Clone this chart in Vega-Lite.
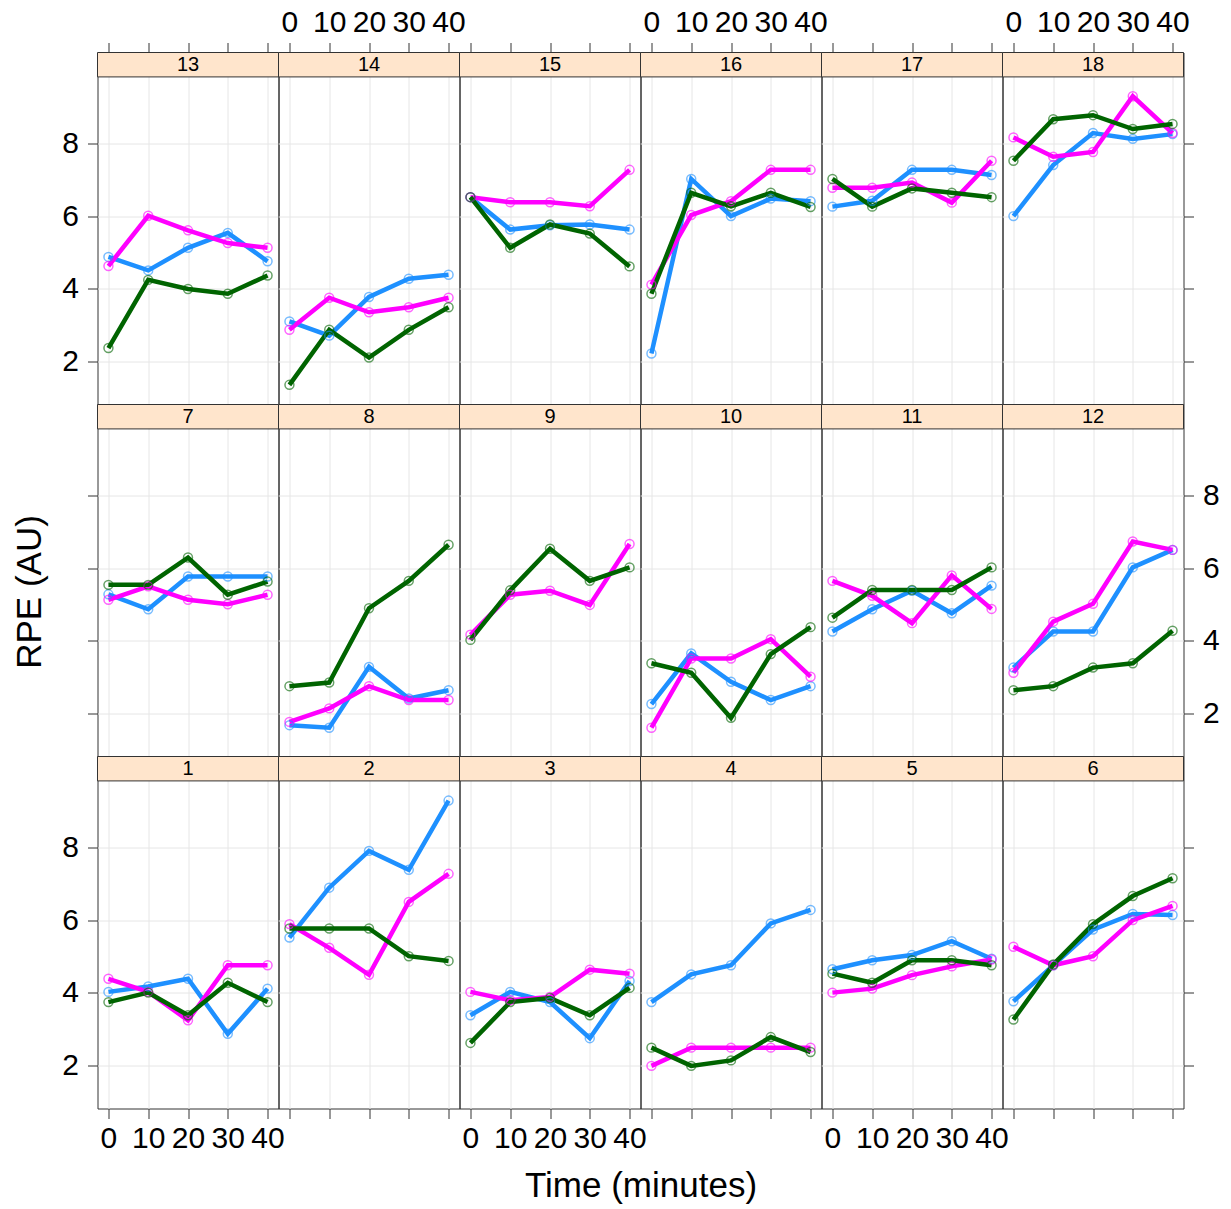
{
"$schema": "https://vega.github.io/schema/vega-lite/v6.json",
"padding": {"left": 11.5, "top": 6.5, "right": 5, "bottom": 5},
"datasets": {"rpe": [
{"panel":1,"cond":"S1","time":0,"rpe":4.03},{"panel":1,"cond":"S1","time":10,"rpe":4.18},{"panel":1,"cond":"S1","time":20,"rpe":4.39},{"panel":1,"cond":"S1","time":30,"rpe":2.88},{"panel":1,"cond":"S1","time":40,"rpe":4.12},
{"panel":1,"cond":"S2","time":0,"rpe":4.39},{"panel":1,"cond":"S2","time":10,"rpe":4.03},{"panel":1,"cond":"S2","time":20,"rpe":3.25},{"panel":1,"cond":"S2","time":30,"rpe":4.76},{"panel":1,"cond":"S2","time":40,"rpe":4.76},
{"panel":1,"cond":"S3","time":0,"rpe":3.75},{"panel":1,"cond":"S3","time":10,"rpe":4.01},{"panel":1,"cond":"S3","time":20,"rpe":3.39},{"panel":1,"cond":"S3","time":30,"rpe":4.28},{"panel":1,"cond":"S3","time":40,"rpe":3.75},
{"panel":2,"cond":"S1","time":0,"rpe":5.52},{"panel":2,"cond":"S1","time":10,"rpe":6.89},{"panel":2,"cond":"S1","time":20,"rpe":7.9},{"panel":2,"cond":"S1","time":30,"rpe":7.38},{"panel":2,"cond":"S1","time":40,"rpe":9.28},
{"panel":2,"cond":"S2","time":0,"rpe":5.89},{"panel":2,"cond":"S2","time":10,"rpe":5.24},{"panel":2,"cond":"S2","time":20,"rpe":4.5},{"panel":2,"cond":"S2","time":30,"rpe":6.5},{"panel":2,"cond":"S2","time":40,"rpe":7.27},
{"panel":2,"cond":"S3","time":0,"rpe":5.77},{"panel":2,"cond":"S3","time":10,"rpe":5.77},{"panel":2,"cond":"S3","time":20,"rpe":5.77},{"panel":2,"cond":"S3","time":30,"rpe":5.01},{"panel":2,"cond":"S3","time":40,"rpe":4.88},
{"panel":3,"cond":"S1","time":0,"rpe":3.39},{"panel":3,"cond":"S1","time":10,"rpe":4.03},{"panel":3,"cond":"S1","time":20,"rpe":3.75},{"panel":3,"cond":"S1","time":30,"rpe":2.76},{"panel":3,"cond":"S1","time":40,"rpe":4.33},
{"panel":3,"cond":"S2","time":0,"rpe":4.03},{"panel":3,"cond":"S2","time":10,"rpe":3.8},{"panel":3,"cond":"S2","time":20,"rpe":3.89},{"panel":3,"cond":"S2","time":30,"rpe":4.64},{"panel":3,"cond":"S2","time":40,"rpe":4.53},
{"panel":3,"cond":"S3","time":0,"rpe":2.63},{"panel":3,"cond":"S3","time":10,"rpe":3.75},{"panel":3,"cond":"S3","time":20,"rpe":3.86},{"panel":3,"cond":"S3","time":30,"rpe":3.39},{"panel":3,"cond":"S3","time":40,"rpe":4.14},
{"panel":4,"cond":"S1","time":0,"rpe":3.75},{"panel":4,"cond":"S1","time":10,"rpe":4.51},{"panel":4,"cond":"S1","time":20,"rpe":4.76},{"panel":4,"cond":"S1","time":30,"rpe":5.91},{"panel":4,"cond":"S1","time":40,"rpe":6.28},
{"panel":4,"cond":"S2","time":0,"rpe":2.0},{"panel":4,"cond":"S2","time":10,"rpe":2.5},{"panel":4,"cond":"S2","time":20,"rpe":2.5},{"panel":4,"cond":"S2","time":30,"rpe":2.5},{"panel":4,"cond":"S2","time":40,"rpe":2.5},
{"panel":4,"cond":"S3","time":0,"rpe":2.5},{"panel":4,"cond":"S3","time":10,"rpe":2.0},{"panel":4,"cond":"S3","time":20,"rpe":2.15},{"panel":4,"cond":"S3","time":30,"rpe":2.79},{"panel":4,"cond":"S3","time":40,"rpe":2.38},
{"panel":5,"cond":"S1","time":0,"rpe":4.65},{"panel":5,"cond":"S1","time":10,"rpe":4.9},{"panel":5,"cond":"S1","time":20,"rpe":5.04},{"panel":5,"cond":"S1","time":30,"rpe":5.42},{"panel":5,"cond":"S1","time":40,"rpe":4.94},
{"panel":5,"cond":"S2","time":0,"rpe":4.01},{"panel":5,"cond":"S2","time":10,"rpe":4.12},{"panel":5,"cond":"S2","time":20,"rpe":4.49},{"panel":5,"cond":"S2","time":30,"rpe":4.73},{"panel":5,"cond":"S2","time":40,"rpe":4.92},
{"panel":5,"cond":"S3","time":0,"rpe":4.53},{"panel":5,"cond":"S3","time":10,"rpe":4.28},{"panel":5,"cond":"S3","time":20,"rpe":4.9},{"panel":5,"cond":"S3","time":30,"rpe":4.9},{"panel":5,"cond":"S3","time":40,"rpe":4.76},
{"panel":6,"cond":"S1","time":0,"rpe":3.77},{"panel":6,"cond":"S1","time":10,"rpe":4.76},{"panel":6,"cond":"S1","time":20,"rpe":5.74},{"panel":6,"cond":"S1","time":30,"rpe":6.17},{"panel":6,"cond":"S1","time":40,"rpe":6.14},
{"panel":6,"cond":"S2","time":0,"rpe":5.27},{"panel":6,"cond":"S2","time":10,"rpe":4.76},{"panel":6,"cond":"S2","time":20,"rpe":5.01},{"panel":6,"cond":"S2","time":30,"rpe":6.0},{"panel":6,"cond":"S2","time":40,"rpe":6.39},
{"panel":6,"cond":"S3","time":0,"rpe":3.27},{"panel":6,"cond":"S3","time":10,"rpe":4.78},{"panel":6,"cond":"S3","time":20,"rpe":5.89},{"panel":6,"cond":"S3","time":30,"rpe":6.66},{"panel":6,"cond":"S3","time":40,"rpe":7.15},
{"panel":7,"cond":"S1","time":0,"rpe":5.28},{"panel":7,"cond":"S1","time":10,"rpe":4.87},{"panel":7,"cond":"S1","time":20,"rpe":5.77},{"panel":7,"cond":"S1","time":30,"rpe":5.77},{"panel":7,"cond":"S1","time":40,"rpe":5.77},
{"panel":7,"cond":"S2","time":0,"rpe":5.13},{"panel":7,"cond":"S2","time":10,"rpe":5.5},{"panel":7,"cond":"S2","time":20,"rpe":5.13},{"panel":7,"cond":"S2","time":30,"rpe":5.01},{"panel":7,"cond":"S2","time":40,"rpe":5.27},
{"panel":7,"cond":"S3","time":0,"rpe":5.54},{"panel":7,"cond":"S3","time":10,"rpe":5.54},{"panel":7,"cond":"S3","time":20,"rpe":6.29},{"panel":7,"cond":"S3","time":30,"rpe":5.27},{"panel":7,"cond":"S3","time":40,"rpe":5.63},
{"panel":8,"cond":"S1","time":0,"rpe":1.69},{"panel":8,"cond":"S1","time":10,"rpe":1.62},{"panel":8,"cond":"S1","time":20,"rpe":3.29},{"panel":8,"cond":"S1","time":30,"rpe":2.42},{"panel":8,"cond":"S1","time":40,"rpe":2.65},
{"panel":8,"cond":"S2","time":0,"rpe":1.78},{"panel":8,"cond":"S2","time":10,"rpe":2.15},{"panel":8,"cond":"S2","time":20,"rpe":2.76},{"panel":8,"cond":"S2","time":30,"rpe":2.38},{"panel":8,"cond":"S2","time":40,"rpe":2.38},
{"panel":8,"cond":"S3","time":0,"rpe":2.76},{"panel":8,"cond":"S3","time":10,"rpe":2.86},{"panel":8,"cond":"S3","time":20,"rpe":4.9},{"panel":8,"cond":"S3","time":30,"rpe":5.65},{"panel":8,"cond":"S3","time":40,"rpe":6.64},
{"panel":9,"cond":"S2","time":0,"rpe":4.17},{"panel":9,"cond":"S2","time":10,"rpe":5.27},{"panel":9,"cond":"S2","time":20,"rpe":5.38},{"panel":9,"cond":"S2","time":30,"rpe":4.99},{"panel":9,"cond":"S2","time":40,"rpe":6.66},
{"panel":9,"cond":"S3","time":0,"rpe":4.03},{"panel":9,"cond":"S3","time":10,"rpe":5.39},{"panel":9,"cond":"S3","time":20,"rpe":6.53},{"panel":9,"cond":"S3","time":30,"rpe":5.65},{"panel":9,"cond":"S3","time":40,"rpe":6.02},
{"panel":10,"cond":"S1","time":0,"rpe":2.27},{"panel":10,"cond":"S1","time":10,"rpe":3.66},{"panel":10,"cond":"S1","time":20,"rpe":2.88},{"panel":10,"cond":"S1","time":30,"rpe":2.38},{"panel":10,"cond":"S1","time":40,"rpe":2.76},
{"panel":10,"cond":"S2","time":0,"rpe":1.62},{"panel":10,"cond":"S2","time":10,"rpe":3.52},{"panel":10,"cond":"S2","time":20,"rpe":3.52},{"panel":10,"cond":"S2","time":30,"rpe":4.05},{"panel":10,"cond":"S2","time":40,"rpe":3.02},
{"panel":10,"cond":"S3","time":0,"rpe":3.39},{"panel":10,"cond":"S3","time":10,"rpe":3.13},{"panel":10,"cond":"S3","time":20,"rpe":1.89},{"panel":10,"cond":"S3","time":30,"rpe":3.64},{"panel":10,"cond":"S3","time":40,"rpe":4.38},
{"panel":11,"cond":"S1","time":0,"rpe":4.26},{"panel":11,"cond":"S1","time":10,"rpe":4.87},{"panel":11,"cond":"S1","time":20,"rpe":5.38},{"panel":11,"cond":"S1","time":30,"rpe":4.76},{"panel":11,"cond":"S1","time":40,"rpe":5.52},
{"panel":11,"cond":"S2","time":0,"rpe":5.65},{"panel":11,"cond":"S2","time":10,"rpe":5.24},{"panel":11,"cond":"S2","time":20,"rpe":4.49},{"panel":11,"cond":"S2","time":30,"rpe":5.8},{"panel":11,"cond":"S2","time":40,"rpe":4.88},
{"panel":11,"cond":"S3","time":0,"rpe":4.64},{"panel":11,"cond":"S3","time":10,"rpe":5.4},{"panel":11,"cond":"S3","time":20,"rpe":5.4},{"panel":11,"cond":"S3","time":30,"rpe":5.4},{"panel":11,"cond":"S3","time":40,"rpe":6.02},
{"panel":12,"cond":"S1","time":0,"rpe":3.27},{"panel":12,"cond":"S1","time":10,"rpe":4.26},{"panel":12,"cond":"S1","time":20,"rpe":4.26},{"panel":12,"cond":"S1","time":30,"rpe":6.02},{"panel":12,"cond":"S1","time":40,"rpe":6.5},
{"panel":12,"cond":"S2","time":0,"rpe":3.13},{"panel":12,"cond":"S2","time":10,"rpe":4.53},{"panel":12,"cond":"S2","time":20,"rpe":5.02},{"panel":12,"cond":"S2","time":30,"rpe":6.73},{"panel":12,"cond":"S2","time":40,"rpe":6.5},
{"panel":12,"cond":"S3","time":0,"rpe":2.65},{"panel":12,"cond":"S3","time":10,"rpe":2.76},{"panel":12,"cond":"S3","time":20,"rpe":3.27},{"panel":12,"cond":"S3","time":30,"rpe":3.39},{"panel":12,"cond":"S3","time":40,"rpe":4.28},
{"panel":13,"cond":"S1","time":0,"rpe":4.88},{"panel":13,"cond":"S1","time":10,"rpe":4.51},{"panel":13,"cond":"S1","time":20,"rpe":5.13},{"panel":13,"cond":"S1","time":30,"rpe":5.54},{"panel":13,"cond":"S1","time":40,"rpe":4.76},
{"panel":13,"cond":"S2","time":0,"rpe":4.63},{"panel":13,"cond":"S2","time":10,"rpe":6.01},{"panel":13,"cond":"S2","time":20,"rpe":5.61},{"panel":13,"cond":"S2","time":30,"rpe":5.26},{"panel":13,"cond":"S2","time":40,"rpe":5.13},
{"panel":13,"cond":"S3","time":0,"rpe":2.38},{"panel":13,"cond":"S3","time":10,"rpe":4.25},{"panel":13,"cond":"S3","time":20,"rpe":4.0},{"panel":13,"cond":"S3","time":30,"rpe":3.87},{"panel":13,"cond":"S3","time":40,"rpe":4.37},
{"panel":14,"cond":"S1","time":0,"rpe":3.11},{"panel":14,"cond":"S1","time":10,"rpe":2.72},{"panel":14,"cond":"S1","time":20,"rpe":3.78},{"panel":14,"cond":"S1","time":30,"rpe":4.28},{"panel":14,"cond":"S1","time":40,"rpe":4.39},
{"panel":14,"cond":"S2","time":0,"rpe":2.88},{"panel":14,"cond":"S2","time":10,"rpe":3.76},{"panel":14,"cond":"S2","time":20,"rpe":3.36},{"panel":14,"cond":"S2","time":30,"rpe":3.5},{"panel":14,"cond":"S2","time":40,"rpe":3.76},
{"panel":14,"cond":"S3","time":0,"rpe":1.37},{"panel":14,"cond":"S3","time":10,"rpe":2.88},{"panel":14,"cond":"S3","time":20,"rpe":2.12},{"panel":14,"cond":"S3","time":30,"rpe":2.88},{"panel":14,"cond":"S3","time":40,"rpe":3.5},
{"panel":15,"cond":"S1","time":0,"rpe":6.52},{"panel":15,"cond":"S1","time":10,"rpe":5.63},{"panel":15,"cond":"S1","time":20,"rpe":5.75},{"panel":15,"cond":"S1","time":30,"rpe":5.77},{"panel":15,"cond":"S1","time":40,"rpe":5.63},
{"panel":15,"cond":"S2","time":0,"rpe":6.52},{"panel":15,"cond":"S2","time":10,"rpe":6.38},{"panel":15,"cond":"S2","time":20,"rpe":6.38},{"panel":15,"cond":"S2","time":30,"rpe":6.27},{"panel":15,"cond":"S2","time":40,"rpe":7.27},
{"panel":15,"cond":"S3","time":0,"rpe":6.52},{"panel":15,"cond":"S3","time":10,"rpe":5.13},{"panel":15,"cond":"S3","time":20,"rpe":5.77},{"panel":15,"cond":"S3","time":30,"rpe":5.52},{"panel":15,"cond":"S3","time":40,"rpe":4.62},
{"panel":16,"cond":"S1","time":0,"rpe":2.23},{"panel":16,"cond":"S1","time":10,"rpe":7.02},{"panel":16,"cond":"S1","time":20,"rpe":6.0},{"panel":16,"cond":"S1","time":30,"rpe":6.48},{"panel":16,"cond":"S1","time":40,"rpe":6.41},
{"panel":16,"cond":"S2","time":0,"rpe":4.12},{"panel":16,"cond":"S2","time":10,"rpe":6.03},{"panel":16,"cond":"S2","time":20,"rpe":6.41},{"panel":16,"cond":"S2","time":30,"rpe":7.27},{"panel":16,"cond":"S2","time":40,"rpe":7.27},
{"panel":16,"cond":"S3","time":0,"rpe":3.87},{"panel":16,"cond":"S3","time":10,"rpe":6.64},{"panel":16,"cond":"S3","time":20,"rpe":6.27},{"panel":16,"cond":"S3","time":30,"rpe":6.64},{"panel":16,"cond":"S3","time":40,"rpe":6.25},
{"panel":17,"cond":"S1","time":0,"rpe":6.26},{"panel":17,"cond":"S1","time":10,"rpe":6.42},{"panel":17,"cond":"S1","time":20,"rpe":7.27},{"panel":17,"cond":"S1","time":30,"rpe":7.27},{"panel":17,"cond":"S1","time":40,"rpe":7.13},
{"panel":17,"cond":"S2","time":0,"rpe":6.78},{"panel":17,"cond":"S2","time":10,"rpe":6.78},{"panel":17,"cond":"S2","time":20,"rpe":6.92},{"panel":17,"cond":"S2","time":30,"rpe":6.37},{"panel":17,"cond":"S2","time":40,"rpe":7.52},
{"panel":17,"cond":"S3","time":0,"rpe":7.02},{"panel":17,"cond":"S3","time":10,"rpe":6.26},{"panel":17,"cond":"S3","time":20,"rpe":6.76},{"panel":17,"cond":"S3","time":30,"rpe":6.64},{"panel":17,"cond":"S3","time":40,"rpe":6.52},
{"panel":18,"cond":"S1","time":0,"rpe":6.0},{"panel":18,"cond":"S1","time":10,"rpe":7.4},{"panel":18,"cond":"S1","time":20,"rpe":8.28},{"panel":18,"cond":"S1","time":30,"rpe":8.12},{"panel":18,"cond":"S1","time":40,"rpe":8.25},
{"panel":18,"cond":"S2","time":0,"rpe":8.16},{"panel":18,"cond":"S2","time":10,"rpe":7.63},{"panel":18,"cond":"S2","time":20,"rpe":7.76},{"panel":18,"cond":"S2","time":30,"rpe":9.29},{"panel":18,"cond":"S2","time":40,"rpe":8.28},
{"panel":18,"cond":"S3","time":0,"rpe":7.52},{"panel":18,"cond":"S3","time":10,"rpe":8.66},{"panel":18,"cond":"S3","time":20,"rpe":8.77},{"panel":18,"cond":"S3","time":30,"rpe":8.39},{"panel":18,"cond":"S3","time":40,"rpe":8.53}
]},
"columns": 6,
"spacing": 0,
"bounds": "flush",
"concat": [
{"width":181,"height":352,"layer":[
 {"data":{"values":[{"label":"13"}]},"mark":{"type":"rect","fill":"#FFE5CC","stroke":"#333333","strokeWidth":1},"encoding":{"x":{"datum":-2.75,"type":"quantitative"},"x2":{"datum":42.75},"y":{"datum":9.82,"type":"quantitative"},"y2":{"datum":10.49}}},
 {"data":{"values":[{"label":"13"}]},"mark":{"type":"text","fontSize":20,"font":"Liberation Sans","color":"black"},"encoding":{"x":{"datum":20,"type":"quantitative"},"y":{"datum":10.155,"type":"quantitative"},"text":{"field":"label"}}},
 {"data":{"name":"rpe"},"transform":[{"filter":"datum.panel == 13"}],"mark":{"type":"line","strokeWidth":4.5,"point":{"filled":false,"size":80,"strokeWidth":1.5,"opacity":0.6}},
  "encoding":{"x":{"field":"time","type":"quantitative","scale":{"domain":[-2.75,42.75],"nice":false,"zero":false},"axis":{"orient":"top","values":[0,10,20,30,40],"title":null,"ticks":true,"labels":false}},
   "y":{"field":"rpe","type":"quantitative","scale":{"domain":[0.83,10.49],"nice":false,"zero":false},"axis":{"orient":"left","values":[2,4,6,8],"title":null,"ticks":true,"labels":true}},
   "color":{"field":"cond","type":"nominal","scale":{"domain":["S1","S2","S3"],"range":["#1E90FF","#FF00FF","#006400"]},"legend":null}}}]},
{"width":181,"height":352,"layer":[
 {"data":{"values":[{"label":"14"}]},"mark":{"type":"rect","fill":"#FFE5CC","stroke":"#333333","strokeWidth":1},"encoding":{"x":{"datum":-2.75,"type":"quantitative"},"x2":{"datum":42.75},"y":{"datum":9.82,"type":"quantitative"},"y2":{"datum":10.49}}},
 {"data":{"values":[{"label":"14"}]},"mark":{"type":"text","fontSize":20,"font":"Liberation Sans","color":"black"},"encoding":{"x":{"datum":20,"type":"quantitative"},"y":{"datum":10.155,"type":"quantitative"},"text":{"field":"label"}}},
 {"data":{"name":"rpe"},"transform":[{"filter":"datum.panel == 14"}],"mark":{"type":"line","strokeWidth":4.5,"point":{"filled":false,"size":80,"strokeWidth":1.5,"opacity":0.6}},
  "encoding":{"x":{"field":"time","type":"quantitative","scale":{"domain":[-2.75,42.75],"nice":false,"zero":false},"axis":{"orient":"top","values":[0,10,20,30,40],"title":null,"ticks":true,"labels":true}},
   "y":{"field":"rpe","type":"quantitative","scale":{"domain":[0.83,10.49],"nice":false,"zero":false},"axis":{"orient":"left","values":[2,4,6,8],"title":null,"ticks":false,"labels":false}},
   "color":{"field":"cond","type":"nominal","scale":{"domain":["S1","S2","S3"],"range":["#1E90FF","#FF00FF","#006400"]},"legend":null}}}]},
{"width":181,"height":352,"layer":[
 {"data":{"values":[{"label":"15"}]},"mark":{"type":"rect","fill":"#FFE5CC","stroke":"#333333","strokeWidth":1},"encoding":{"x":{"datum":-2.75,"type":"quantitative"},"x2":{"datum":42.75},"y":{"datum":9.82,"type":"quantitative"},"y2":{"datum":10.49}}},
 {"data":{"values":[{"label":"15"}]},"mark":{"type":"text","fontSize":20,"font":"Liberation Sans","color":"black"},"encoding":{"x":{"datum":20,"type":"quantitative"},"y":{"datum":10.155,"type":"quantitative"},"text":{"field":"label"}}},
 {"data":{"name":"rpe"},"transform":[{"filter":"datum.panel == 15"}],"mark":{"type":"line","strokeWidth":4.5,"point":{"filled":false,"size":80,"strokeWidth":1.5,"opacity":0.6}},
  "encoding":{"x":{"field":"time","type":"quantitative","scale":{"domain":[-2.75,42.75],"nice":false,"zero":false},"axis":{"orient":"top","values":[0,10,20,30,40],"title":null,"ticks":true,"labels":false}},
   "y":{"field":"rpe","type":"quantitative","scale":{"domain":[0.83,10.49],"nice":false,"zero":false},"axis":{"orient":"left","values":[2,4,6,8],"title":null,"ticks":false,"labels":false}},
   "color":{"field":"cond","type":"nominal","scale":{"domain":["S1","S2","S3"],"range":["#1E90FF","#FF00FF","#006400"]},"legend":null}}}]},
{"width":181,"height":352,"layer":[
 {"data":{"values":[{"label":"16"}]},"mark":{"type":"rect","fill":"#FFE5CC","stroke":"#333333","strokeWidth":1},"encoding":{"x":{"datum":-2.75,"type":"quantitative"},"x2":{"datum":42.75},"y":{"datum":9.82,"type":"quantitative"},"y2":{"datum":10.49}}},
 {"data":{"values":[{"label":"16"}]},"mark":{"type":"text","fontSize":20,"font":"Liberation Sans","color":"black"},"encoding":{"x":{"datum":20,"type":"quantitative"},"y":{"datum":10.155,"type":"quantitative"},"text":{"field":"label"}}},
 {"data":{"name":"rpe"},"transform":[{"filter":"datum.panel == 16"}],"mark":{"type":"line","strokeWidth":4.5,"point":{"filled":false,"size":80,"strokeWidth":1.5,"opacity":0.6}},
  "encoding":{"x":{"field":"time","type":"quantitative","scale":{"domain":[-2.75,42.75],"nice":false,"zero":false},"axis":{"orient":"top","values":[0,10,20,30,40],"title":null,"ticks":true,"labels":true}},
   "y":{"field":"rpe","type":"quantitative","scale":{"domain":[0.83,10.49],"nice":false,"zero":false},"axis":{"orient":"left","values":[2,4,6,8],"title":null,"ticks":false,"labels":false}},
   "color":{"field":"cond","type":"nominal","scale":{"domain":["S1","S2","S3"],"range":["#1E90FF","#FF00FF","#006400"]},"legend":null}}}]},
{"width":181,"height":352,"layer":[
 {"data":{"values":[{"label":"17"}]},"mark":{"type":"rect","fill":"#FFE5CC","stroke":"#333333","strokeWidth":1},"encoding":{"x":{"datum":-2.75,"type":"quantitative"},"x2":{"datum":42.75},"y":{"datum":9.82,"type":"quantitative"},"y2":{"datum":10.49}}},
 {"data":{"values":[{"label":"17"}]},"mark":{"type":"text","fontSize":20,"font":"Liberation Sans","color":"black"},"encoding":{"x":{"datum":20,"type":"quantitative"},"y":{"datum":10.155,"type":"quantitative"},"text":{"field":"label"}}},
 {"data":{"name":"rpe"},"transform":[{"filter":"datum.panel == 17"}],"mark":{"type":"line","strokeWidth":4.5,"point":{"filled":false,"size":80,"strokeWidth":1.5,"opacity":0.6}},
  "encoding":{"x":{"field":"time","type":"quantitative","scale":{"domain":[-2.75,42.75],"nice":false,"zero":false},"axis":{"orient":"top","values":[0,10,20,30,40],"title":null,"ticks":true,"labels":false}},
   "y":{"field":"rpe","type":"quantitative","scale":{"domain":[0.83,10.49],"nice":false,"zero":false},"axis":{"orient":"left","values":[2,4,6,8],"title":null,"ticks":false,"labels":false}},
   "color":{"field":"cond","type":"nominal","scale":{"domain":["S1","S2","S3"],"range":["#1E90FF","#FF00FF","#006400"]},"legend":null}}}]},
{"width":181,"height":352,"layer":[
 {"data":{"values":[{"label":"18"}]},"mark":{"type":"rect","fill":"#FFE5CC","stroke":"#333333","strokeWidth":1},"encoding":{"x":{"datum":-2.75,"type":"quantitative"},"x2":{"datum":42.75},"y":{"datum":9.82,"type":"quantitative"},"y2":{"datum":10.49}}},
 {"data":{"values":[{"label":"18"}]},"mark":{"type":"text","fontSize":20,"font":"Liberation Sans","color":"black"},"encoding":{"x":{"datum":20,"type":"quantitative"},"y":{"datum":10.155,"type":"quantitative"},"text":{"field":"label"}}},
 {"data":{"name":"rpe"},"transform":[{"filter":"datum.panel == 18"}],"mark":{"type":"line","strokeWidth":4.5,"point":{"filled":false,"size":80,"strokeWidth":1.5,"opacity":0.6}},
  "encoding":{"x":{"field":"time","type":"quantitative","scale":{"domain":[-2.75,42.75],"nice":false,"zero":false},"axis":{"orient":"top","values":[0,10,20,30,40],"title":null,"ticks":true,"labels":true}},
   "y":{"field":"rpe","type":"quantitative","scale":{"domain":[0.83,10.49],"nice":false,"zero":false},"axis":{"orient":"right","values":[2,4,6,8],"title":null,"ticks":true,"labels":false}},
   "color":{"field":"cond","type":"nominal","scale":{"domain":["S1","S2","S3"],"range":["#1E90FF","#FF00FF","#006400"]},"legend":null}}}]},
{"width":181,"height":352,"layer":[
 {"data":{"values":[{"label":"7"}]},"mark":{"type":"rect","fill":"#FFE5CC","stroke":"#333333","strokeWidth":1},"encoding":{"x":{"datum":-2.75,"type":"quantitative"},"x2":{"datum":42.75},"y":{"datum":9.82,"type":"quantitative"},"y2":{"datum":10.49}}},
 {"data":{"values":[{"label":"7"}]},"mark":{"type":"text","fontSize":20,"font":"Liberation Sans","color":"black"},"encoding":{"x":{"datum":20,"type":"quantitative"},"y":{"datum":10.155,"type":"quantitative"},"text":{"field":"label"}}},
 {"data":{"name":"rpe"},"transform":[{"filter":"datum.panel == 7"}],"mark":{"type":"line","strokeWidth":4.5,"point":{"filled":false,"size":80,"strokeWidth":1.5,"opacity":0.6}},
  "encoding":{"x":{"field":"time","type":"quantitative","scale":{"domain":[-2.75,42.75],"nice":false,"zero":false},"axis":{"orient":"bottom","values":[0,10,20,30,40],"title":null,"ticks":false,"labels":false}},
   "y":{"field":"rpe","type":"quantitative","scale":{"domain":[0.83,10.49],"nice":false,"zero":false},"axis":{"orient":"left","values":[2,4,6,8],"title":"RPE (AU)","titleX":-57,"titleY":187,"titleAngle":-90,"titleAlign":"center","titleBaseline":"alphabetic","titleFontSize":35,"titleFont":"Liberation Sans","titleFontWeight":"normal","titleColor":"black","ticks":true,"labels":false}},
   "color":{"field":"cond","type":"nominal","scale":{"domain":["S1","S2","S3"],"range":["#1E90FF","#FF00FF","#006400"]},"legend":null}}}]},
{"width":181,"height":352,"layer":[
 {"data":{"values":[{"label":"8"}]},"mark":{"type":"rect","fill":"#FFE5CC","stroke":"#333333","strokeWidth":1},"encoding":{"x":{"datum":-2.75,"type":"quantitative"},"x2":{"datum":42.75},"y":{"datum":9.82,"type":"quantitative"},"y2":{"datum":10.49}}},
 {"data":{"values":[{"label":"8"}]},"mark":{"type":"text","fontSize":20,"font":"Liberation Sans","color":"black"},"encoding":{"x":{"datum":20,"type":"quantitative"},"y":{"datum":10.155,"type":"quantitative"},"text":{"field":"label"}}},
 {"data":{"name":"rpe"},"transform":[{"filter":"datum.panel == 8"}],"mark":{"type":"line","strokeWidth":4.5,"point":{"filled":false,"size":80,"strokeWidth":1.5,"opacity":0.6}},
  "encoding":{"x":{"field":"time","type":"quantitative","scale":{"domain":[-2.75,42.75],"nice":false,"zero":false},"axis":{"orient":"bottom","values":[0,10,20,30,40],"title":null,"ticks":false,"labels":false}},
   "y":{"field":"rpe","type":"quantitative","scale":{"domain":[0.83,10.49],"nice":false,"zero":false},"axis":{"orient":"left","values":[2,4,6,8],"title":null,"ticks":false,"labels":false}},
   "color":{"field":"cond","type":"nominal","scale":{"domain":["S1","S2","S3"],"range":["#1E90FF","#FF00FF","#006400"]},"legend":null}}}]},
{"width":181,"height":352,"layer":[
 {"data":{"values":[{"label":"9"}]},"mark":{"type":"rect","fill":"#FFE5CC","stroke":"#333333","strokeWidth":1},"encoding":{"x":{"datum":-2.75,"type":"quantitative"},"x2":{"datum":42.75},"y":{"datum":9.82,"type":"quantitative"},"y2":{"datum":10.49}}},
 {"data":{"values":[{"label":"9"}]},"mark":{"type":"text","fontSize":20,"font":"Liberation Sans","color":"black"},"encoding":{"x":{"datum":20,"type":"quantitative"},"y":{"datum":10.155,"type":"quantitative"},"text":{"field":"label"}}},
 {"data":{"name":"rpe"},"transform":[{"filter":"datum.panel == 9"}],"mark":{"type":"line","strokeWidth":4.5,"point":{"filled":false,"size":80,"strokeWidth":1.5,"opacity":0.6}},
  "encoding":{"x":{"field":"time","type":"quantitative","scale":{"domain":[-2.75,42.75],"nice":false,"zero":false},"axis":{"orient":"bottom","values":[0,10,20,30,40],"title":null,"ticks":false,"labels":false}},
   "y":{"field":"rpe","type":"quantitative","scale":{"domain":[0.83,10.49],"nice":false,"zero":false},"axis":{"orient":"left","values":[2,4,6,8],"title":null,"ticks":false,"labels":false}},
   "color":{"field":"cond","type":"nominal","scale":{"domain":["S1","S2","S3"],"range":["#1E90FF","#FF00FF","#006400"]},"legend":null}}}]},
{"width":181,"height":352,"layer":[
 {"data":{"values":[{"label":"10"}]},"mark":{"type":"rect","fill":"#FFE5CC","stroke":"#333333","strokeWidth":1},"encoding":{"x":{"datum":-2.75,"type":"quantitative"},"x2":{"datum":42.75},"y":{"datum":9.82,"type":"quantitative"},"y2":{"datum":10.49}}},
 {"data":{"values":[{"label":"10"}]},"mark":{"type":"text","fontSize":20,"font":"Liberation Sans","color":"black"},"encoding":{"x":{"datum":20,"type":"quantitative"},"y":{"datum":10.155,"type":"quantitative"},"text":{"field":"label"}}},
 {"data":{"name":"rpe"},"transform":[{"filter":"datum.panel == 10"}],"mark":{"type":"line","strokeWidth":4.5,"point":{"filled":false,"size":80,"strokeWidth":1.5,"opacity":0.6}},
  "encoding":{"x":{"field":"time","type":"quantitative","scale":{"domain":[-2.75,42.75],"nice":false,"zero":false},"axis":{"orient":"bottom","values":[0,10,20,30,40],"title":null,"ticks":false,"labels":false}},
   "y":{"field":"rpe","type":"quantitative","scale":{"domain":[0.83,10.49],"nice":false,"zero":false},"axis":{"orient":"left","values":[2,4,6,8],"title":null,"ticks":false,"labels":false}},
   "color":{"field":"cond","type":"nominal","scale":{"domain":["S1","S2","S3"],"range":["#1E90FF","#FF00FF","#006400"]},"legend":null}}}]},
{"width":181,"height":352,"layer":[
 {"data":{"values":[{"label":"11"}]},"mark":{"type":"rect","fill":"#FFE5CC","stroke":"#333333","strokeWidth":1},"encoding":{"x":{"datum":-2.75,"type":"quantitative"},"x2":{"datum":42.75},"y":{"datum":9.82,"type":"quantitative"},"y2":{"datum":10.49}}},
 {"data":{"values":[{"label":"11"}]},"mark":{"type":"text","fontSize":20,"font":"Liberation Sans","color":"black"},"encoding":{"x":{"datum":20,"type":"quantitative"},"y":{"datum":10.155,"type":"quantitative"},"text":{"field":"label"}}},
 {"data":{"name":"rpe"},"transform":[{"filter":"datum.panel == 11"}],"mark":{"type":"line","strokeWidth":4.5,"point":{"filled":false,"size":80,"strokeWidth":1.5,"opacity":0.6}},
  "encoding":{"x":{"field":"time","type":"quantitative","scale":{"domain":[-2.75,42.75],"nice":false,"zero":false},"axis":{"orient":"bottom","values":[0,10,20,30,40],"title":null,"ticks":false,"labels":false}},
   "y":{"field":"rpe","type":"quantitative","scale":{"domain":[0.83,10.49],"nice":false,"zero":false},"axis":{"orient":"left","values":[2,4,6,8],"title":null,"ticks":false,"labels":false}},
   "color":{"field":"cond","type":"nominal","scale":{"domain":["S1","S2","S3"],"range":["#1E90FF","#FF00FF","#006400"]},"legend":null}}}]},
{"width":181,"height":352,"layer":[
 {"data":{"values":[{"label":"12"}]},"mark":{"type":"rect","fill":"#FFE5CC","stroke":"#333333","strokeWidth":1},"encoding":{"x":{"datum":-2.75,"type":"quantitative"},"x2":{"datum":42.75},"y":{"datum":9.82,"type":"quantitative"},"y2":{"datum":10.49}}},
 {"data":{"values":[{"label":"12"}]},"mark":{"type":"text","fontSize":20,"font":"Liberation Sans","color":"black"},"encoding":{"x":{"datum":20,"type":"quantitative"},"y":{"datum":10.155,"type":"quantitative"},"text":{"field":"label"}}},
 {"data":{"name":"rpe"},"transform":[{"filter":"datum.panel == 12"}],"mark":{"type":"line","strokeWidth":4.5,"point":{"filled":false,"size":80,"strokeWidth":1.5,"opacity":0.6}},
  "encoding":{"x":{"field":"time","type":"quantitative","scale":{"domain":[-2.75,42.75],"nice":false,"zero":false},"axis":{"orient":"bottom","values":[0,10,20,30,40],"title":null,"ticks":false,"labels":false}},
   "y":{"field":"rpe","type":"quantitative","scale":{"domain":[0.83,10.49],"nice":false,"zero":false},"axis":{"orient":"right","values":[2,4,6,8],"title":null,"ticks":true,"labels":true}},
   "color":{"field":"cond","type":"nominal","scale":{"domain":["S1","S2","S3"],"range":["#1E90FF","#FF00FF","#006400"]},"legend":null}}}]},
{"width":181,"height":352,"layer":[
 {"data":{"values":[{"label":"1"}]},"mark":{"type":"rect","fill":"#FFE5CC","stroke":"#333333","strokeWidth":1},"encoding":{"x":{"datum":-2.75,"type":"quantitative"},"x2":{"datum":42.75},"y":{"datum":9.82,"type":"quantitative"},"y2":{"datum":10.49}}},
 {"data":{"values":[{"label":"1"}]},"mark":{"type":"text","fontSize":20,"font":"Liberation Sans","color":"black"},"encoding":{"x":{"datum":20,"type":"quantitative"},"y":{"datum":10.155,"type":"quantitative"},"text":{"field":"label"}}},
 {"data":{"name":"rpe"},"transform":[{"filter":"datum.panel == 1"}],"mark":{"type":"line","strokeWidth":4.5,"point":{"filled":false,"size":80,"strokeWidth":1.5,"opacity":0.6}},
  "encoding":{"x":{"field":"time","type":"quantitative","scale":{"domain":[-2.75,42.75],"nice":false,"zero":false},"axis":{"orient":"bottom","values":[0,10,20,30,40],"title":null,"ticks":true,"labels":true}},
   "y":{"field":"rpe","type":"quantitative","scale":{"domain":[0.83,10.49],"nice":false,"zero":false},"axis":{"orient":"left","values":[2,4,6,8],"title":null,"ticks":true,"labels":true}},
   "color":{"field":"cond","type":"nominal","scale":{"domain":["S1","S2","S3"],"range":["#1E90FF","#FF00FF","#006400"]},"legend":null}}}]},
{"width":181,"height":352,"layer":[
 {"data":{"values":[{"label":"2"}]},"mark":{"type":"rect","fill":"#FFE5CC","stroke":"#333333","strokeWidth":1},"encoding":{"x":{"datum":-2.75,"type":"quantitative"},"x2":{"datum":42.75},"y":{"datum":9.82,"type":"quantitative"},"y2":{"datum":10.49}}},
 {"data":{"values":[{"label":"2"}]},"mark":{"type":"text","fontSize":20,"font":"Liberation Sans","color":"black"},"encoding":{"x":{"datum":20,"type":"quantitative"},"y":{"datum":10.155,"type":"quantitative"},"text":{"field":"label"}}},
 {"data":{"name":"rpe"},"transform":[{"filter":"datum.panel == 2"}],"mark":{"type":"line","strokeWidth":4.5,"point":{"filled":false,"size":80,"strokeWidth":1.5,"opacity":0.6}},
  "encoding":{"x":{"field":"time","type":"quantitative","scale":{"domain":[-2.75,42.75],"nice":false,"zero":false},"axis":{"orient":"bottom","values":[0,10,20,30,40],"title":null,"ticks":true,"labels":false}},
   "y":{"field":"rpe","type":"quantitative","scale":{"domain":[0.83,10.49],"nice":false,"zero":false},"axis":{"orient":"left","values":[2,4,6,8],"title":null,"ticks":false,"labels":false}},
   "color":{"field":"cond","type":"nominal","scale":{"domain":["S1","S2","S3"],"range":["#1E90FF","#FF00FF","#006400"]},"legend":null}}}]},
{"width":181,"height":352,"layer":[
 {"data":{"values":[{"label":"3"}]},"mark":{"type":"rect","fill":"#FFE5CC","stroke":"#333333","strokeWidth":1},"encoding":{"x":{"datum":-2.75,"type":"quantitative"},"x2":{"datum":42.75},"y":{"datum":9.82,"type":"quantitative"},"y2":{"datum":10.49}}},
 {"data":{"values":[{"label":"3"}]},"mark":{"type":"text","fontSize":20,"font":"Liberation Sans","color":"black"},"encoding":{"x":{"datum":20,"type":"quantitative"},"y":{"datum":10.155,"type":"quantitative"},"text":{"field":"label"}}},
 {"data":{"name":"rpe"},"transform":[{"filter":"datum.panel == 3"}],"mark":{"type":"line","strokeWidth":4.5,"point":{"filled":false,"size":80,"strokeWidth":1.5,"opacity":0.6}},
  "encoding":{"x":{"field":"time","type":"quantitative","scale":{"domain":[-2.75,42.75],"nice":false,"zero":false},"axis":{"orient":"bottom","values":[0,10,20,30,40],"title":"Time (minutes)","titleX":181,"titleY":88,"titleAlign":"center","titleBaseline":"alphabetic","titleFontSize":35,"titleFont":"Liberation Sans","titleFontWeight":"normal","titleColor":"black","ticks":true,"labels":true}},
   "y":{"field":"rpe","type":"quantitative","scale":{"domain":[0.83,10.49],"nice":false,"zero":false},"axis":{"orient":"left","values":[2,4,6,8],"title":null,"ticks":false,"labels":false}},
   "color":{"field":"cond","type":"nominal","scale":{"domain":["S1","S2","S3"],"range":["#1E90FF","#FF00FF","#006400"]},"legend":null}}}]},
{"width":181,"height":352,"layer":[
 {"data":{"values":[{"label":"4"}]},"mark":{"type":"rect","fill":"#FFE5CC","stroke":"#333333","strokeWidth":1},"encoding":{"x":{"datum":-2.75,"type":"quantitative"},"x2":{"datum":42.75},"y":{"datum":9.82,"type":"quantitative"},"y2":{"datum":10.49}}},
 {"data":{"values":[{"label":"4"}]},"mark":{"type":"text","fontSize":20,"font":"Liberation Sans","color":"black"},"encoding":{"x":{"datum":20,"type":"quantitative"},"y":{"datum":10.155,"type":"quantitative"},"text":{"field":"label"}}},
 {"data":{"name":"rpe"},"transform":[{"filter":"datum.panel == 4"}],"mark":{"type":"line","strokeWidth":4.5,"point":{"filled":false,"size":80,"strokeWidth":1.5,"opacity":0.6}},
  "encoding":{"x":{"field":"time","type":"quantitative","scale":{"domain":[-2.75,42.75],"nice":false,"zero":false},"axis":{"orient":"bottom","values":[0,10,20,30,40],"title":null,"ticks":true,"labels":false}},
   "y":{"field":"rpe","type":"quantitative","scale":{"domain":[0.83,10.49],"nice":false,"zero":false},"axis":{"orient":"left","values":[2,4,6,8],"title":null,"ticks":false,"labels":false}},
   "color":{"field":"cond","type":"nominal","scale":{"domain":["S1","S2","S3"],"range":["#1E90FF","#FF00FF","#006400"]},"legend":null}}}]},
{"width":181,"height":352,"layer":[
 {"data":{"values":[{"label":"5"}]},"mark":{"type":"rect","fill":"#FFE5CC","stroke":"#333333","strokeWidth":1},"encoding":{"x":{"datum":-2.75,"type":"quantitative"},"x2":{"datum":42.75},"y":{"datum":9.82,"type":"quantitative"},"y2":{"datum":10.49}}},
 {"data":{"values":[{"label":"5"}]},"mark":{"type":"text","fontSize":20,"font":"Liberation Sans","color":"black"},"encoding":{"x":{"datum":20,"type":"quantitative"},"y":{"datum":10.155,"type":"quantitative"},"text":{"field":"label"}}},
 {"data":{"name":"rpe"},"transform":[{"filter":"datum.panel == 5"}],"mark":{"type":"line","strokeWidth":4.5,"point":{"filled":false,"size":80,"strokeWidth":1.5,"opacity":0.6}},
  "encoding":{"x":{"field":"time","type":"quantitative","scale":{"domain":[-2.75,42.75],"nice":false,"zero":false},"axis":{"orient":"bottom","values":[0,10,20,30,40],"title":null,"ticks":true,"labels":true}},
   "y":{"field":"rpe","type":"quantitative","scale":{"domain":[0.83,10.49],"nice":false,"zero":false},"axis":{"orient":"left","values":[2,4,6,8],"title":null,"ticks":false,"labels":false}},
   "color":{"field":"cond","type":"nominal","scale":{"domain":["S1","S2","S3"],"range":["#1E90FF","#FF00FF","#006400"]},"legend":null}}}]},
{"width":181,"height":352,"layer":[
 {"data":{"values":[{"label":"6"}]},"mark":{"type":"rect","fill":"#FFE5CC","stroke":"#333333","strokeWidth":1},"encoding":{"x":{"datum":-2.75,"type":"quantitative"},"x2":{"datum":42.75},"y":{"datum":9.82,"type":"quantitative"},"y2":{"datum":10.49}}},
 {"data":{"values":[{"label":"6"}]},"mark":{"type":"text","fontSize":20,"font":"Liberation Sans","color":"black"},"encoding":{"x":{"datum":20,"type":"quantitative"},"y":{"datum":10.155,"type":"quantitative"},"text":{"field":"label"}}},
 {"data":{"name":"rpe"},"transform":[{"filter":"datum.panel == 6"}],"mark":{"type":"line","strokeWidth":4.5,"point":{"filled":false,"size":80,"strokeWidth":1.5,"opacity":0.6}},
  "encoding":{"x":{"field":"time","type":"quantitative","scale":{"domain":[-2.75,42.75],"nice":false,"zero":false},"axis":{"orient":"bottom","values":[0,10,20,30,40],"title":null,"ticks":true,"labels":false}},
   "y":{"field":"rpe","type":"quantitative","scale":{"domain":[0.83,10.49],"nice":false,"zero":false},"axis":{"orient":"right","values":[2,4,6,8],"title":null,"ticks":true,"labels":false}},
   "color":{"field":"cond","type":"nominal","scale":{"domain":["S1","S2","S3"],"range":["#1E90FF","#FF00FF","#006400"]},"legend":null}}}]}
],
"config": {
 "view": {"stroke": "#333333", "strokeWidth": 1},
 "font": "Liberation Sans",
 "axis": {"domain": false, "grid": true, "gridColor": "#E6E6E6", "gridWidth": 1, "tickColor": "#333333", "tickSize": 10, "tickWidth": 1, "labelFont": "Liberation Sans", "labelFontSize": 30, "labelColor": "black", "labelOverlap": false, "labelFlush": false},
 "axisBottom": {"labelPadding": 4.5},
 "axisTop": {"labelPadding": 5.5},
 "axisLeft": {"labelPadding": 9},
 "axisRight": {"labelPadding": 9}
}
}
